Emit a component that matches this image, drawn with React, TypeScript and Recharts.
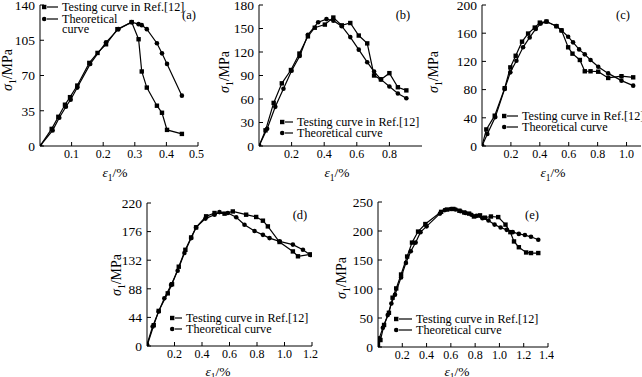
import React from 'react';
import { LineChart, Line, XAxis, YAxis } from 'recharts';

// (a)
const aTestX = [0, 0.037, 0.058, 0.079, 0.095, 0.118, 0.156, 0.182, 0.209, 0.245, 0.29, 0.312, 0.322, 0.338, 0.37, 0.386, 0.402, 0.449];
const aTestY = [0, 17, 29, 41, 48.5, 60, 82.5, 92.4, 101, 116, 123, 106, 74, 58, 40, 33, 16, 12];
const aTheoX = [0, 0.04, 0.061, 0.082, 0.097, 0.118, 0.159, 0.209, 0.248, 0.29, 0.312, 0.322, 0.338, 0.37, 0.386, 0.402, 0.449];
const aTheoY = [0, 15.5, 28, 39, 46, 58, 81.5, 103, 116, 123, 121, 120, 116, 102, 92, 81.5, 50];

// (b)
const bTestX = [0, 0.04, 0.09, 0.14, 0.196, 0.248, 0.3, 0.342, 0.404, 0.456, 0.508, 0.56, 0.612, 0.664, 0.706, 0.748, 0.8, 0.852, 0.904];
const bTestY = [0, 20, 55, 80, 97, 118, 140, 151, 155, 164, 154, 157, 141, 131, 90, 85, 93, 75, 71];
const bTheoX = [0, 0.05, 0.1, 0.15, 0.2, 0.25, 0.3, 0.363, 0.414, 0.456, 0.508, 0.56, 0.612, 0.664, 0.706, 0.748, 0.8, 0.852, 0.904];
const bTheoY = [0, 22, 50, 73, 96, 115, 142, 158, 162, 160, 153, 139, 123, 107, 95, 85, 76, 67, 61];

// (c)
const cTestX = [0, 0.03, 0.088, 0.157, 0.196, 0.233, 0.277, 0.319, 0.365, 0.4, 0.446, 0.515, 0.55, 0.596, 0.626, 0.677, 0.711, 0.751, 0.804, 0.873, 0.965, 1.046];
const cTestY = [0, 23.5, 43, 82, 111.5, 128, 148, 159.5, 168, 175, 176.5, 170, 164, 140, 131, 122, 106, 106, 105.4, 96.5, 99, 97.4];
const cTheoX = [0, 0.037, 0.092, 0.157, 0.196, 0.238, 0.284, 0.33, 0.372, 0.406, 0.446, 0.515, 0.55, 0.596, 0.63, 0.672, 0.711, 0.751, 0.804, 0.873, 0.965, 1.046];
const cTheoY = [0, 17, 41, 81, 104.5, 121, 140, 154, 166, 173.6, 176.5, 170, 164, 155, 147, 137, 130, 122, 112.5, 103, 92.7, 85.6];

// (d)
const dTestX = [0, 0.049, 0.085, 0.151, 0.182, 0.231, 0.279, 0.321, 0.357, 0.43, 0.491, 0.564, 0.624, 0.721, 0.794, 0.843, 0.879, 0.964, 1.061, 1.098, 1.188];
const dTestY = [0, 32, 54, 81, 95, 122, 148, 167, 182.5, 199.5, 204.6, 203.6, 207, 202, 198.5, 192.8, 184, 160, 145.5, 138, 141];
const dTheoX = [0, 0.041, 0.085, 0.126, 0.175, 0.223, 0.272, 0.321, 0.357, 0.425, 0.491, 0.527, 0.588, 0.649, 0.709, 0.782, 0.843, 0.891, 0.964, 1.061, 1.134, 1.188];
const dTheoY = [2.5, 30, 53, 73.5, 94, 115.7, 143, 166, 182.5, 196, 202, 206, 204.6, 198, 186.6, 177, 171, 166, 161, 156, 148, 140];

// (e)
const eTestX = [0, 0.02, 0.05, 0.09, 0.12, 0.15, 0.19, 0.24, 0.28, 0.33, 0.39, 0.52, 0.57, 0.62, 0.67, 0.71, 0.75, 0.79, 0.84, 0.88, 0.93, 0.99, 1.05, 1.09, 1.12, 1.16, 1.22, 1.26, 1.32];
const eTestY = [0, 12, 38, 59, 85, 101, 125, 156, 180, 199, 212, 233, 237, 238, 235, 232, 230, 225, 227, 223, 225, 224, 211, 198, 182, 172, 163, 162, 162];
const eTheoX = [0, 0.01, 0.04, 0.08, 0.11, 0.14, 0.19, 0.23, 0.27, 0.31, 0.35, 0.4, 0.51, 0.55, 0.6, 0.64, 0.68, 0.72, 0.77, 0.81, 0.86, 0.91, 0.96, 1.01, 1.06, 1.11, 1.16, 1.21, 1.26, 1.32];
const eTheoY = [5, 15, 33, 55, 75, 90, 120, 145, 165, 180, 198, 208, 230, 236, 238, 237, 234, 231, 228, 226, 222, 218, 211, 206, 202, 198, 195, 193, 190, 185];

const testLabel = 'Testing curve in Ref.[12]';
const theoLabel = 'Theoretical curve';

const zip = (xs: number[], ys: number[]) => xs.map((x, i) => ({ x, y: ys[i] }));

const FONT = '"Liberation Serif", "Times New Roman", serif';
const xTickStyle = { fontSize: 12, fill: '#000', fontFamily: FONT };
const yTickStyle = { fontSize: 13.5, fill: '#000', fontFamily: FONT };
const LEG_FS = 12.2;

const Square = (p: any) =>
    p.cx == null ? <g key={p.index} /> : <rect key={p.index} x={p.cx - 2.2} y={p.cy - 2.2} width={4.4} height={4.4} fill="#000" />;
const Dot = (p: any) =>
    p.cx == null ? <g key={p.index} /> : <circle key={p.index} cx={p.cx} cy={p.cy} r={2.3} fill="#000" />;

const fmt = (v: number) => v.toFixed(1);

interface PanelProps {
    box: [number, number, number, number];
    xDomain: [number, number];
    xTicks: number[];
    yDomain: [number, number];
    yTicks: number[];
    test: { x: number; y: number }[];
    theo: { x: number; y: number }[];
    tag: string;
    tagPos: [number, number];
    yLabelPos: [number, number];
    xLabelPos: [number, number];
    legend: [number, number, number];
    splitTheo?: boolean;
}

const YW = 40;
const MT = 8;
const MR = 6;
const XH = 24;

const Panel: React.FC<PanelProps> = (p) => {
    const [x0, y0, x1, y1] = p.box;
    const [mx, my, tx] = p.legend;
    const iconW = tx - mx + 3;
    const row = (marker: 'sq' | 'ci', text: React.ReactNode, y: number) => (
        <div style={{ position: 'absolute', left: mx - 3, top: y - 5, height: 10, display: 'flex', alignItems: 'center', whiteSpace: 'nowrap' }}>
            <svg width={iconW} height={10} style={{ flexShrink: 0 }}>
                {marker === 'sq'
                    ? <rect x={1} y={2.8} width={4.4} height={4.4} fill="#000" />
                    : <circle cx={3.2} cy={5} r={2.3} fill="#000" />}
                <line x1={6} x2={iconW - 4} y1={5} y2={5} stroke="#000" strokeWidth={1.2} />
            </svg>
            <span style={{ fontFamily: FONT, fontSize: LEG_FS, lineHeight: '10px' }}>{text}</span>
        </div>
    );
    return (
        <>
            <div style={{ position: 'absolute', left: x0 - YW, top: y0 - MT }}>
                <LineChart width={YW + (x1 - x0) + MR} height={MT + (y1 - y0) + XH} margin={{ top: MT, right: MR, left: 0, bottom: 0 }}>
                    <XAxis
                        type="number"
                        dataKey="x"
                        domain={p.xDomain}
                        ticks={p.xTicks}
                        tickFormatter={fmt}
                        allowDataOverflow
                        height={XH}
                        tick={xTickStyle}
                        tickSize={-4}
                        tickMargin={7}
                        axisLine={{ stroke: '#000' }}
                        tickLine={{ stroke: '#000' }}
                    />
                    <XAxis xAxisId="top" orientation="top" type="number" domain={p.xDomain} height={0} tick={false} tickLine={false} axisLine={{ stroke: '#000' }} />
                    <YAxis
                        type="number"
                        domain={p.yDomain}
                        ticks={p.yTicks}
                        allowDataOverflow
                        width={YW}
                        tick={yTickStyle}
                        tickSize={-4}
                        tickMargin={9}
                        axisLine={{ stroke: '#000' }}
                        tickLine={{ stroke: '#000' }}
                    />
                    <YAxis yAxisId="r" orientation="right" type="number" domain={p.yDomain} width={0} tick={false} tickLine={false} axisLine={{ stroke: '#000' }} />
                    <Line data={p.theo} dataKey="y" stroke="#000" strokeWidth={1.2} dot={Dot} activeDot={false} isAnimationActive={false} />
                    <Line data={p.test} dataKey="y" stroke="#000" strokeWidth={1.2} dot={Square} activeDot={false} isAnimationActive={false} />
                </LineChart>
            </div>
            <div style={{ position: 'absolute', left: p.tagPos[0] - 15, top: p.tagPos[1] - 7, width: 30, textAlign: 'center', fontFamily: FONT, fontSize: 12.5, lineHeight: '14px' }}>{p.tag}</div>
            <div style={{ position: 'absolute', left: p.yLabelPos[0] - 40, top: p.yLabelPos[1] - 8, width: 80, height: 16, textAlign: 'center', fontFamily: FONT, fontSize: 14, lineHeight: '16px', transform: 'rotate(-90deg)', whiteSpace: 'nowrap' }}>
                <i>σ</i><sub style={{ fontSize: 9.5 }}>1</sub>/MPa
            </div>
            <div style={{ position: 'absolute', left: p.xLabelPos[0] - 40, top: p.xLabelPos[1] - 8, width: 80, height: 16, textAlign: 'center', fontFamily: FONT, fontSize: 13.5, lineHeight: '16px', whiteSpace: 'nowrap' }}>
                <i>ε</i><sub style={{ fontSize: 9.5 }}>1</sub>/%
            </div>
            {row('sq', testLabel, my)}
            {p.splitTheo ? (
                <>
                    {row('ci', 'Theoretical', my + 12)}
                    <div style={{ position: 'absolute', left: tx, top: my + 17, fontFamily: FONT, fontSize: LEG_FS, lineHeight: '10px' }}>curve</div>
                </>
            ) : row('ci', theoLabel, my + 11)}
        </>
    );
};

export default function App() {
    return (
        <div style={{ position: 'absolute', left: 0, top: 0, width: 642, height: 377, overflow: 'hidden', background: '#fff' }}>
            <Panel
                box={[40, 5, 198, 146]}
                xDomain={[0, 0.5]} xTicks={[0.1, 0.2, 0.3, 0.4, 0.5]}
                yDomain={[0, 140]} yTicks={[0, 35, 70, 105, 140]}
                test={zip(aTestX, aTestY)} theo={zip(aTheoX, aTheoY)}
                tag="(a)" tagPos={[189, 15]} yLabelPos={[8, 70]} xLabelPos={[115, 173]}
                legend={[44, 7, 62]} splitTheo
            />
            <Panel
                box={[259, 5, 422, 146]}
                xDomain={[0, 1.0]} xTicks={[0.2, 0.4, 0.6, 0.8]}
                yDomain={[0, 180]} yTicks={[0, 30, 60, 90, 120, 150, 180]}
                test={zip(bTestX, bTestY)} theo={zip(bTheoX, bTheoY)}
                tag="(b)" tagPos={[403, 15]} yLabelPos={[225, 72]} xLabelPos={[337, 173]}
                legend={[282, 122, 297]}
            />
            <Panel
                box={[482, 5, 641, 146]}
                xDomain={[0, 1.1]} xTicks={[0.2, 0.4, 0.6, 0.8, 1.0]}
                yDomain={[0, 200]} yTicks={[0, 40, 80, 120, 160, 200]}
                test={zip(cTestX, cTestY)} theo={zip(cTheoX, cTheoY)}
                tag="(c)" tagPos={[623, 15]} yLabelPos={[434, 72]} xLabelPos={[553, 173]}
                legend={[504, 116, 522]}
            />
            <Panel
                box={[147, 203, 312, 346]}
                xDomain={[0, 1.2]} xTicks={[0.2, 0.4, 0.6, 0.8, 1.0, 1.2]}
                yDomain={[0, 220]} yTicks={[0, 44, 88, 132, 176, 220]}
                test={zip(dTestX, dTestY)} theo={zip(dTheoX, dTheoY)}
                tag="(d)" tagPos={[300, 215]} yLabelPos={[117, 275]} xLabelPos={[218, 372]}
                legend={[172, 318, 186]}
            />
            <Panel
                box={[378, 202, 548, 347]}
                xDomain={[0, 1.4]} xTicks={[0.2, 0.4, 0.6, 0.8, 1.0, 1.2, 1.4]}
                yDomain={[0, 250]} yTicks={[0, 50, 100, 150, 200, 250]}
                test={zip(eTestX, eTestY)} theo={zip(eTheoX, eTheoY)}
                tag="(e)" tagPos={[532, 215]} yLabelPos={[342, 278]} xLabelPos={[457, 372]}
                legend={[396, 319, 416]}
            />
        </div>
    );
}
